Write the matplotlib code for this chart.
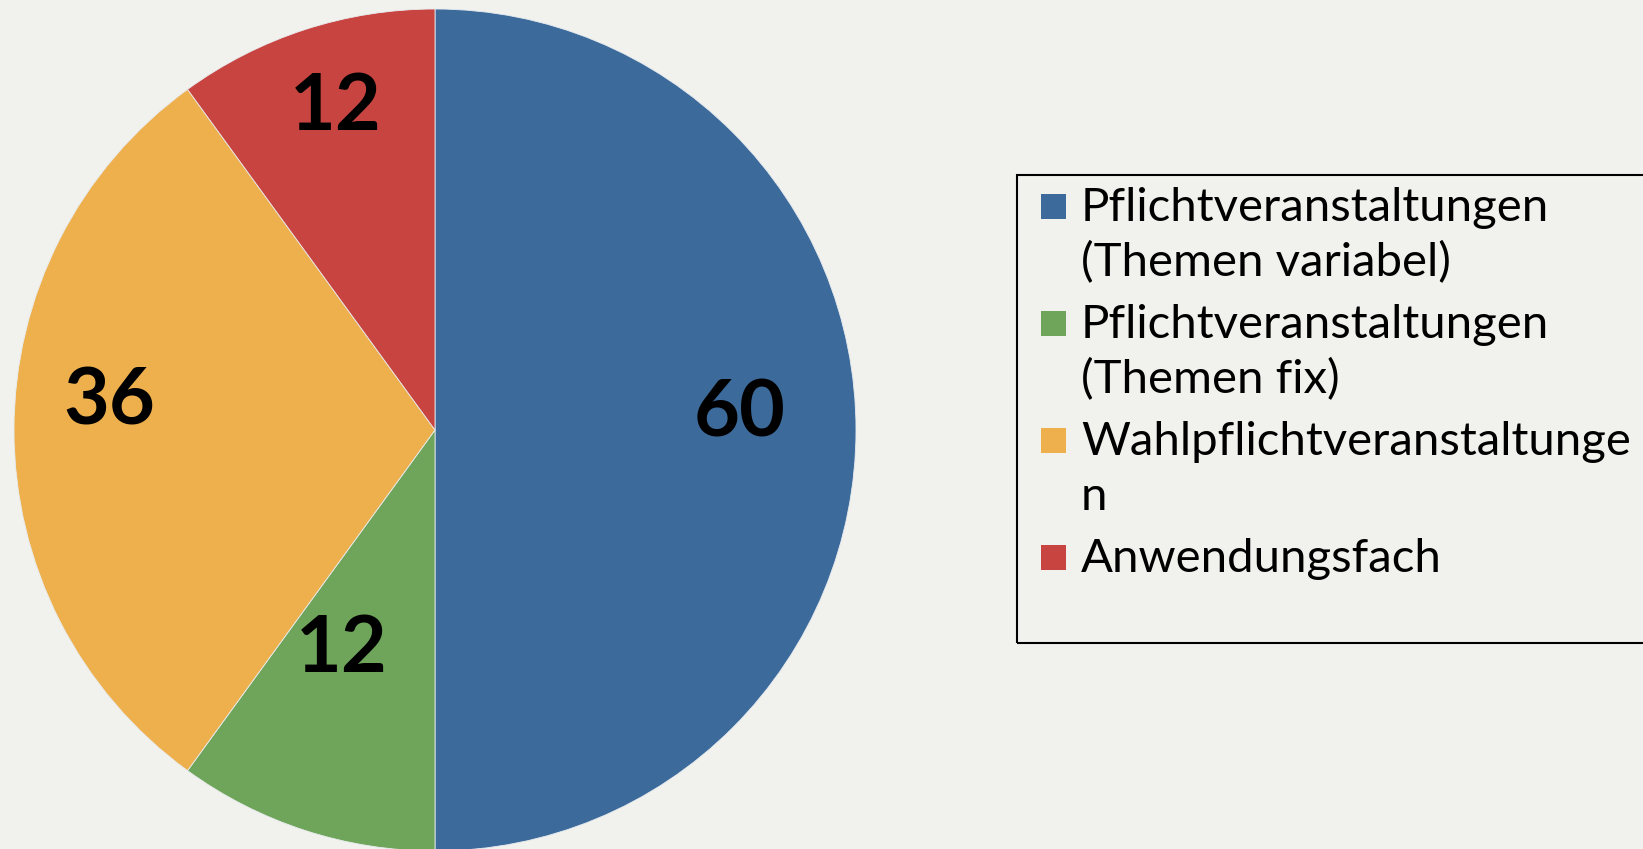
import matplotlib
matplotlib.use("Agg")
import matplotlib.pyplot as plt
import numpy as np
from matplotlib.patches import Rectangle

# Data
categories = [
    "Pflichtveranstaltungen\n(Themen variabel)",
    "Pflichtveranstaltungen\n(Themen fix)",
    "Wahlpflichtveranstaltunge\nn",
    "Anwendungsfach",
]
values = [60, 12, 36, 12]
colors = ["#3C6B9B", "#6EA55A", "#EDB04D", "#C84440"]
# where each value label sits: fraction of radius, degrees off the wedge middle
label_radius = [0.726, 0.553, 0.777, 0.815]
label_shift = [4.0, -5.5, -5.9, -1.2]

BG = "#F1F1ED"
W, H = 1643, 849

plt.rcParams['font.family'] = ['Lato', 'DejaVu Sans']

fig = plt.figure(figsize=(W / 100, H / 100), dpi=100, facecolor=BG)

# pie axes: centre (435, 430) px, radius 421 px
cx, cy, r = 435, 430, 421
ax = fig.add_axes([(cx - r) / W, (H - cy - r) / H, 2 * r / W, 2 * r / H])
ax.set_facecolor(BG)
wedges, _ = ax.pie(values, colors=colors, startangle=90, counterclock=False,
                   radius=1.0, wedgeprops=dict(edgecolor="#E8ECF0", linewidth=0.6))
ax.set_xlim(-1, 1)
ax.set_ylim(-1, 1)
ax.set_aspect('equal')
ax.axis('off')

for w, v, lr, sh in zip(wedges, values, label_radius, label_shift):
    mid = np.deg2rad((w.theta1 + w.theta2) / 2 + sh)
    ax.text(lr * np.cos(mid), lr * np.sin(mid) - 0.015, str(v),
            ha='center', va='center', fontsize=57, fontweight='bold', color='black')

# legend drawn by hand so the swatch sits on the first line
def fx(px):
    return px / W

def fy(py):
    return 1 - py / H

fig.patches.append(Rectangle((fx(1017), fy(643)), fx(1660) - fx(1017), fy(175) - fy(643),
                             transform=fig.transFigure, fill=False,
                             edgecolor='black', linewidth=1.5))

base0, entry_step, line_step = 221, 117, 55
for i, (lab, col) in enumerate(zip(categories, colors)):
    b = base0 + i * entry_step
    fig.patches.append(Rectangle((fx(1041), fy(b - 2)), fx(25), 25 / H,
                                 transform=fig.transFigure, facecolor=col,
                                 edgecolor='none'))
    for j, line in enumerate(lab.split("\n")):
        fig.text(fx(1081), fy(b + j * line_step), line, ha='left', va='baseline',
                 fontsize=34, color='black')

fig.savefig("out.png", dpi=100, facecolor=BG)
